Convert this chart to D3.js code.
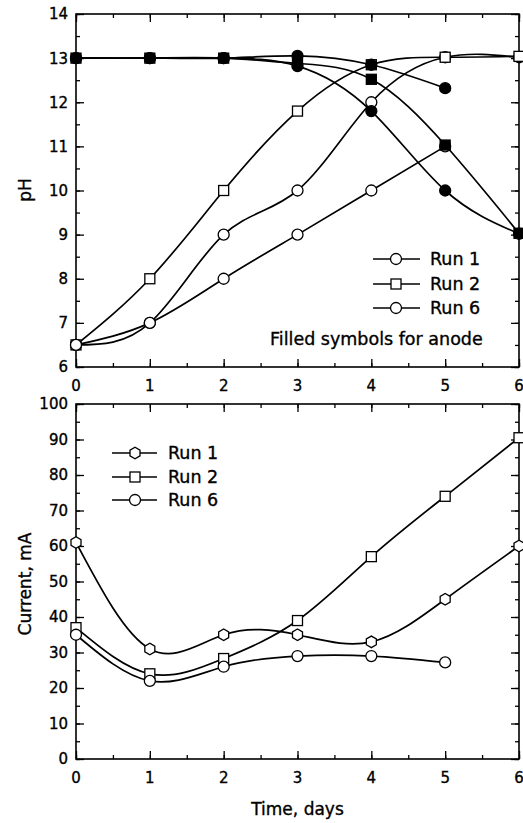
<!DOCTYPE html>
<html>
<head>
<meta charset="utf-8">
<script src="https://cdn.jsdelivr.net/npm/d3@7"></script>
<style>
  html, body { margin: 0; padding: 0; background: #fff; }
  svg { display: block; }
  text { font-family: "DejaVu Sans", "Liberation Sans", Arial, sans-serif; fill: #000; stroke: #000; stroke-width: 0.35px; }
</style>
</head>
<body>
<svg id="chart" width="523" height="823"></svg>
<script>
// ---------- DATA ----------
const days = [0, 1, 2, 3, 4, 5, 6];
const xTicks = [0, 1, 2, 3, 4, 5, 6];

// Top panel: pH (open = cathode, filled = anode)
const phTicks = [6, 7, 8, 9, 10, 11, 12, 13, 14];
const phRun1Cathode = [6.5, 7, 9, 10, 12, 13.02, 13.02];
const phRun1Anode   = [13, 13, 13, 12.82, 11.8, 10, 9.02];
const phRun2Cathode = [6.5, 8, 10, 11.8, 12.85, 13.02, 13.04];
const phRun2Anode   = [13, 13, 13, 12.88, 12.52, 11.03, 9.03];
const phRun6Cathode = [6.5, 7, 8, 9, 10, 11];
const phRun6Anode   = [13, 13, 13, 13.05, 12.85, 12.32];

// Bottom panel: current, mA
const currentTicks = [0, 10, 20, 30, 40, 50, 60, 70, 80, 90, 100];
const curRun1 = [61, 31, 35, 35, 33, 45, 60];
const curRun2 = [37, 24, 28.3, 39, 57, 74, 90.5];
const curRun6 = [35, 22, 26, 29, 29, 27.2];

const legendNames = ["Run 1", "Run 2", "Run 6"];
const noteText = "Filled symbols for anode";
const phLabel = "pH";
const currentLabel = "Current, mA";
const timeLabel = "Time, days";

// ---------- LAYOUT ----------
const svg = d3.select("#chart");
const X0 = 76, X1 = 519;
const x = d3.scaleLinear().domain([0, 6]).range([X0, X1]);
const yTop = d3.scaleLinear().domain([6, 14]).range([367, 14]);
const yBot = d3.scaleLinear().domain([0, 100]).range([759, 404]);

const LW = 1.7;

function frame(y, majors, minorStep, labelFmt, labelBaselineX) {
  const g = svg.append("g");
  const [yb, yt] = y.range();
  const minors = d3.range(y.domain()[0], y.domain()[1] + 1e-9, minorStep);
  g.append("g").attr("transform", `translate(${X0},0)`)
    .call(d3.axisRight(y).tickValues(majors).tickSize(8).tickFormat(""));
  g.append("g").attr("transform", `translate(${X0},0)`)
    .call(d3.axisRight(y).tickValues(minors).tickSize(4).tickFormat(""));
  g.append("g").attr("transform", `translate(${X1},0)`)
    .call(d3.axisLeft(y).tickValues(majors).tickSize(8).tickFormat(""));
  g.append("g").attr("transform", `translate(${X1},0)`)
    .call(d3.axisLeft(y).tickValues(minors).tickSize(4).tickFormat(""));
  g.append("g").attr("transform", `translate(0,${yb})`)
    .call(d3.axisTop(x).tickValues(xTicks).tickSize(8).tickFormat(""));
  g.append("g").attr("transform", `translate(0,${yb})`)
    .call(d3.axisTop(x).tickValues(d3.range(0, 6.01, 0.5)).tickSize(4).tickFormat(""));
  g.append("g").attr("transform", `translate(0,${yt})`)
    .call(d3.axisBottom(x).tickValues(xTicks).tickSize(8).tickFormat(""));
  g.append("g").attr("transform", `translate(0,${yt})`)
    .call(d3.axisBottom(x).tickValues(d3.range(0, 6.01, 0.5)).tickSize(4).tickFormat(""));
  g.selectAll(".domain").remove();
  g.selectAll(".tick line").attr("stroke", "#000").attr("stroke-width", 1.3);
  g.append("rect").attr("x", X0).attr("y", yt).attr("width", X1 - X0).attr("height", yb - yt)
    .attr("fill", "none").attr("stroke", "#000").attr("stroke-width", 1.6);
  g.selectAll("text.yl").data(majors).join("text").attr("class", "yl")
    .attr("x", 68).attr("y", d => y(d)).attr("dy", "0.36em")
    .attr("text-anchor", "end").style("font-size", "15px").text(labelFmt);
  g.selectAll("text.xl").data(xTicks).join("text").attr("class", "xl")
    .attr("x", d => x(d)).attr("y", labelBaselineX)
    .attr("text-anchor", "middle").style("font-size", "15px").text(d => d);
}

frame(yTop, phTicks, 0.5, d => d, 391);
frame(yBot, currentTicks, 5, d => d, 783);

// axis titles
svg.append("text").attr("transform", "translate(31,190) rotate(-90)")
  .attr("text-anchor", "middle").style("font-size", "17px").text(phLabel);
svg.append("text").attr("transform", "translate(31,584) rotate(-90)")
  .attr("text-anchor", "middle").style("font-size", "17px").text(currentLabel);
svg.append("text").attr("x", (X0 + X1) / 2).attr("y", 815)
  .attr("text-anchor", "middle").style("font-size", "17px").text(timeLabel);

// ---------- SERIES ----------
function drawLine(vals, y, g) {
  const pts = vals.map((v, i) => [days[i], v]);
  g.append("path").datum(pts)
    .attr("fill", "none").attr("stroke", "#000").attr("stroke-width", LW)
    .attr("d", d3.line().x(d => x(d[0])).y(d => y(d[1])).curve(d3.curveNatural));
}

function marker(g, shape, filled, cx, cy, s) {
  const fill = filled ? "#000" : "#fff";
  if (shape === "circle") {
    g.append("circle").attr("cx", cx).attr("cy", cy).attr("r", s)
      .attr("fill", fill).attr("stroke", "#000").attr("stroke-width", 1.3);
  } else if (shape === "square") {
    g.append("rect").attr("x", cx - s).attr("y", cy - s).attr("width", 2 * s).attr("height", 2 * s)
      .attr("fill", fill).attr("stroke", "#000").attr("stroke-width", 1.3);
  } else if (shape === "hex") {
    const pts = d3.range(6).map(k => {
      const a = Math.PI / 6 + k * Math.PI / 3;
      return [cx + s * Math.cos(a) * 1.05, cy + s * Math.sin(a) * 1.05];
    });
    g.append("polygon").attr("points", pts.map(p => p.join(",")).join(" "))
      .attr("fill", fill).attr("stroke", "#000").attr("stroke-width", 1.3);
  }
}

function drawMarkers(vals, y, g, shape, filled, s) {
  vals.forEach((v, i) => marker(g, shape, filled, x(days[i]), y(v), s));
}

// top panel
const gTopL = svg.append("g");
const gTopM = svg.append("g");
const topSeries = [
  { v: phRun1Cathode, shape: "circle", filled: false, s: 5.5 },
  { v: phRun2Cathode, shape: "square", filled: false, s: 5 },
  { v: phRun6Cathode, shape: "circle", filled: false, s: 5.5 },
  { v: phRun1Anode, shape: "circle", filled: true, s: 5.5 },
  { v: phRun2Anode, shape: "square", filled: true, s: 5 },
  { v: phRun6Anode, shape: "circle", filled: true, s: 5.5 }
];
topSeries.forEach(sr => drawLine(sr.v, yTop, gTopL));
topSeries.forEach(sr => drawMarkers(sr.v, yTop, gTopM, sr.shape, sr.filled, sr.s));

// bottom panel
const gBotL = svg.append("g");
const gBotM = svg.append("g");
const botSeries = [
  { v: curRun1, shape: "hex", s: 5.5 },
  { v: curRun2, shape: "square", s: 5 },
  { v: curRun6, shape: "circle", s: 5.5 }
];
botSeries.forEach(sr => drawLine(sr.v, yBot, gBotL));
botSeries.forEach(sr => drawMarkers(sr.v, yBot, gBotM, sr.shape, false, sr.s));

// ---------- LEGENDS ----------
function legend(items, x0, x1, xm, xt, ys, fs) {
  const g = svg.append("g");
  items.forEach((it, i) => {
    g.append("line").attr("x1", x0).attr("x2", x1).attr("y1", ys[i]).attr("y2", ys[i])
      .attr("stroke", "#000").attr("stroke-width", LW);
    marker(g, it.shape, false, xm, ys[i], it.s);
    g.append("text").attr("x", xt).attr("y", ys[i]).attr("dy", "0.36em")
      .style("font-size", fs + "px").text(legendNames[i]);
  });
}
legend([{ shape: "circle", s: 5.5 }, { shape: "square", s: 5 }, { shape: "circle", s: 5.5 }],
  373, 420, 396, 430, [259, 284, 308], 17.5);
svg.append("text").attr("x", 270).attr("y", 345).style("font-size", "17.5px").text(noteText);

legend([{ shape: "hex", s: 5.5 }, { shape: "square", s: 5 }, { shape: "circle", s: 5.5 }],
  112, 157, 135, 168, [453, 477, 500], 17.5);
</script>
</body>
</html>
